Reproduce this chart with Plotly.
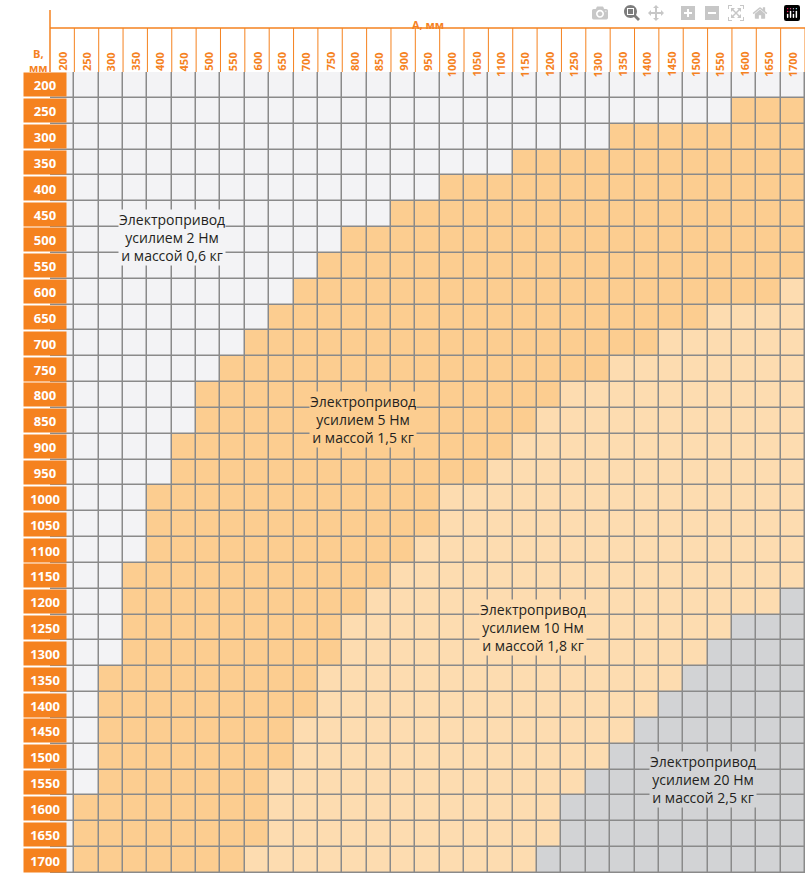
import plotly.graph_objects as go

a_vals = list(range(200, 1701, 50))
b_vals = list(range(200, 1701, 50))

# first A where each zone starts, per B row (None = zone absent)
zone5_start = [None, 1600, 1350, 1150, 1000, 900, 800, 750, 700, 650, 600, 550, 500, 500, 450, 450,
               400, 400, 400, 350, 350, 350, 350, 300, 300, 300, 300, 300, 250, 250, 250]
zone10_start = [None, None, None, None, None, None, None, None, 1700, 1550, 1450, 1350, 1250, 1200, 1150, 1100,
                1000, 1000, 950, 900, 850, 800, 800, 750, 750, 700, 700, 650, 650, 650, 600]
zone20_start = [None] * 20 + [1700, 1600, 1550, 1500, 1450, 1400, 1350, 1300, 1250, 1250, 1200]

labels = ["Электропривод<br>усилием 2 Нм<br>и массой 0,6 кг",
          "Электропривод<br>усилием 5 Нм<br>и массой 1,5 кг",
          "Электропривод<br>усилием 10 Нм<br>и массой 1,8 кг",
          "Электропривод<br>усилием 20 Нм<br>и массой 2,5 кг"]
label_pos = [(425, 495), (818, 848), (1167, 1249), (1516, 1545)]

colors = ["#f3f3f5", "#fccd90", "#fddcb0", "#d2d3d5"]
orange = "#f5821f"

z = []
for i, b in enumerate(b_vals):
    row = []
    for a in a_vals:
        c = 0
        if zone5_start[i] is not None and a >= zone5_start[i]:
            c = 1
        if zone10_start[i] is not None and a >= zone10_start[i]:
            c = 2
        if zone20_start[i] is not None and a >= zone20_start[i]:
            c = 3
        row.append(c)
    z.append(row)

scale = [[0, colors[0]], [0.25, colors[0]], [0.25, colors[1]], [0.5, colors[1]],
         [0.5, colors[2]], [0.75, colors[2]], [0.75, colors[3]], [1, colors[3]]]

fig = go.Figure(go.Heatmap(x=a_vals, y=b_vals, z=z, zmin=-0.5, zmax=3.5, colorscale=scale,
                           showscale=False, xgap=1.5, ygap=1.5, hoverinfo="skip"))

H = 801
ann = []
shapes = []
for i, (txt, (x, y)) in enumerate(zip(labels, label_pos)):
    ann.append(dict(x=x, y=y, text=txt, showarrow=False, bgcolor=colors[min(i, 3)], borderpad=0,
                    font=dict(family="Open Sans", size=14, color="#231f20")))
for a in a_vals:
    ann.append(dict(x=a, y=1 + 22 / H, yref="paper", text=str(a), textangle=-90, showarrow=False,
                    font=dict(family="Open Sans", size=11, color=orange, weight="bold")))
    shapes.append(dict(type="line", x0=a + 25, x1=a + 25, yref="paper", y0=1, y1=1 + 44 / H,
                       line=dict(color=orange, width=1)))
for b in b_vals:
    ann.append(dict(x=-27 / 755, xref="paper", y=b, text=str(b), showarrow=False, bgcolor=orange,
                    width=40, height=21, font=dict(family="Open Sans", size=13, color="white", weight="bold")))
ann.append(dict(x=0.5, y=1 + 57 / H, xref="paper", yref="paper", text="А, мм", showarrow=False,
                font=dict(family="Open Sans", size=11, color=orange, weight="bold")))
ann.append(dict(x=-23 / 755, y=1 + 28 / H, xref="paper", yref="paper", text="В,<br>мм", showarrow=False,
                font=dict(family="Open Sans", size=11, color=orange, weight="bold")))
shapes.append(dict(type="line", xref="paper", yref="paper", x0=0, x1=1, y0=1 + 44 / H, y1=1 + 44 / H,
                   line=dict(color=orange, width=1.5)))
shapes.append(dict(type="line", xref="paper", yref="paper", x0=0, x1=0, y0=1, y1=1 + 62 / H,
                   line=dict(color=orange, width=1.5)))

fig.update_layout(
    width=806, height=878, margin=dict(l=50, r=1, t=72, b=5),
    paper_bgcolor="white", plot_bgcolor="#8a8a8a",
    xaxis=dict(range=[175, 1725], showticklabels=False, showgrid=False, zeroline=False),
    yaxis=dict(range=[1725, 175], showticklabels=False, showgrid=False, zeroline=False),
    annotations=ann, shapes=shapes,
)
fig.write_html("out.html", post_script="document.body.style.margin='0';document.body.style.overflow='hidden';")
